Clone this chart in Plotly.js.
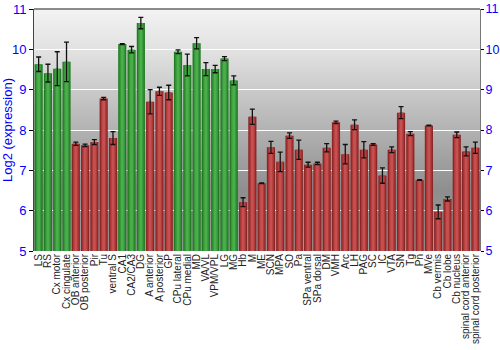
<!DOCTYPE html>
<html>
<head>
<meta charset="utf-8">
<script src="https://cdn.plot.ly/plotly-3.0.1.min.js"></script>
<style>html,body{margin:0;padding:0;background:#fff;}#chart{width:500px;height:350px;}</style>
</head>
<body>
<div id="chart"></div>
<script>
var categories = ["LS","RS","Cx motor","Cx cingulate","OB anterior","OB posterior","Pir","Tu","ventral S","CA1","CA2/CA3","DG","A anterior","A posterior","GP","CPu lateral","CPu medial","MD","VA/VL","VPM/VPL","LG","MG","Hb","M","ME","SCN","MPA","SO","Pa","SPa ventral","SPa dorsal","DM","VMH","Arc","LH","PAG","SC","IC","VTA","SN","Tg","Pn","MVe","Cb vermis","Cb lobe","Cb nucleus","spinal cord anterior","spinal cord posterior"];
var expression = [9.63,9.41,9.52,9.69,7.66,7.62,7.70,8.78,7.80,10.13,9.99,10.65,8.70,8.96,8.93,9.94,9.61,10.15,9.51,9.51,9.77,9.23,6.21,8.33,6.68,7.57,7.21,7.86,7.51,7.14,7.17,7.56,8.19,7.40,8.13,7.51,7.64,6.87,7.51,8.43,7.91,6.76,8.11,5.97,6.29,7.88,7.47,7.56];
var stderr = [0.18,0.22,0.42,0.49,0.04,0.03,0.06,0.03,0.16,0.01,0.08,0.14,0.30,0.10,0.18,0.045,0.27,0.14,0.16,0.09,0.05,0.11,0.11,0.19,0.01,0.15,0.24,0.07,0.24,0.06,0.03,0.10,0.03,0.24,0.12,0.20,0.02,0.19,0.07,0.15,0.05,0.01,0.01,0.17,0.05,0.07,0.11,0.14];
var group = ["high","high","high","high","low","low","low","low","low","high","high","high","low","low","low","high","high","high","high","high","high","high","low","low","low","low","low","low","low","low","low","low","low","low","low","low","low","low","low","low","low","low","low","low","low","low","low","low"];
var yTicks = [5, 6, 7, 8, 9, 10, 11];

var palette = {
  high: ["#247a24", "#36983a", "#4aae4a"],
  low:  ["#8a2626", "#b03a3a", "#c65050"]
};
var widths = [0.88, 0.6, 0.3];

var traces = [];
for (var k = 0; k < 3; k++) {
  var t = {
    type: "bar",
    x: categories,
    y: expression.map(function(v){ return v - 5; }),
    base: 5,
    width: widths[k],
    marker: { color: group.map(function(g){ return palette[g][k]; }), line: { width: 0 } },
    hoverinfo: "skip",
    showlegend: false
  };
  if (k === 2) {
    t.error_y = { type: "data", array: stderr, visible: true, color: "#111", thickness: 1.3, width: 2.5 };
  }
  traces.push(t);
}
traces.push({ type: "scatter", x: [], y: [], yaxis: "y2", hoverinfo: "skip", showlegend: false });

var svg = '<svg xmlns="http://www.w3.org/2000/svg" width="10" height="100" preserveAspectRatio="none" viewBox="0 0 10 100">' +
  '<defs><linearGradient id="g" x1="0" y1="0" x2="0" y2="1">' +
  '<stop offset="0" stop-color="#f3f3f3"/>' +
  '<stop offset="0.2" stop-color="#dedede"/>' +
  '<stop offset="0.5" stop-color="#b2b2b2"/>' +
  '<stop offset="0.75" stop-color="#8e8e8e"/>' +
  '<stop offset="1" stop-color="#9c9c9c"/>' +
  '</linearGradient></defs><rect x="0" y="0" width="10" height="100" fill="url(#g)"/></svg>';
var bgSrc = "data:image/svg+xml;charset=utf-8," + encodeURIComponent(svg);

var layout = {
  width: 500, height: 350,
  margin: { l: 34, r: 20, t: 9, b: 99 },
  paper_bgcolor: "#ffffff",
  plot_bgcolor: "rgba(0,0,0,0)",
  barmode: "overlay",
  font: { family: "Liberation Sans, Arial, sans-serif" },
  images: [{ source: bgSrc, xref: "paper", yref: "paper", x: 0, y: 1, sizex: 1, sizey: 1, sizing: "stretch", layer: "below", xanchor: "left", yanchor: "top" }],
  xaxis: {
    type: "category",
    tickmode: "array",
    tickvals: categories,
    ticktext: categories,
    tickangle: -90,
    tickfont: { size: 10, color: "#222" },
    showgrid: false,
    ticks: "",
    showline: false,
    zeroline: false,
    automargin: false
  },
  yaxis: {
    range: [5, 11],
    tickmode: "array", tickvals: yTicks,
    tickfont: { size: 13, color: "#0000ff" },
    title: { text: "Log2 (expression)", font: { size: 13, color: "#0000ff" }, standoff: 4 },
    showgrid: true, gridcolor: "#ffffff", gridwidth: 1,
    zeroline: false,
    showline: true, linecolor: "#444", linewidth: 1,
    ticks: "outside", ticklen: 4, tickcolor: "#000",
    automargin: false
  },
  yaxis2: {
    overlaying: "y", side: "right", anchor: "x",
    range: [5, 11],
    tickmode: "array", tickvals: yTicks,
    tickfont: { size: 12.5, color: "#0000ff" },
    ticklabelstandoff: -1,
    showgrid: false, zeroline: false,
    showline: true, linecolor: "#777", linewidth: 1,
    ticks: "outside", ticklen: 3, tickcolor: "#000",
    automargin: false
  },
  shapes: [{ type: "line", xref: "paper", yref: "paper", x0: 0, x1: 1, y0: 1, y1: 1, line: { color: "#666", width: 1.5 } }]
};

Plotly.newPlot("chart", traces, layout, { displayModeBar: false, staticPlot: true });
</script>
</body>
</html>
